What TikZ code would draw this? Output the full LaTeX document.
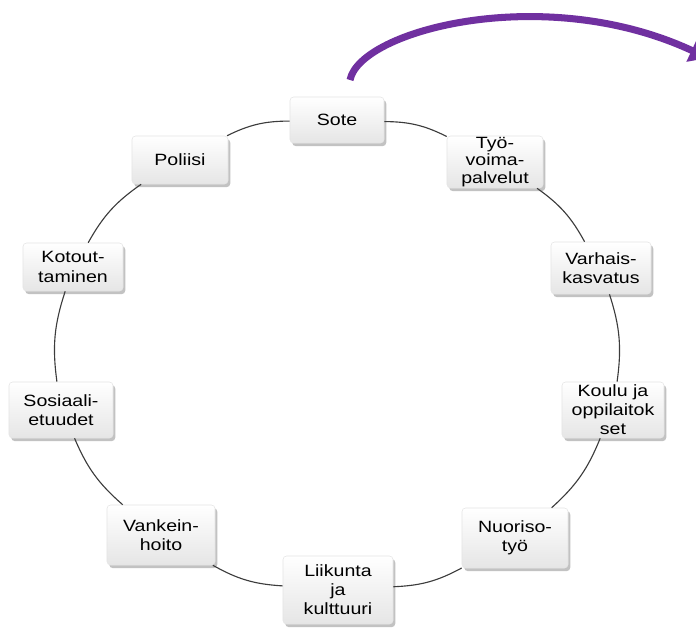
\documentclass[tikz,border=0pt]{standalone}
\usepackage{fontspec}
\newfontfamily\boxfont{Liberation Sans}[FakeStretch=1.2]
\usetikzlibrary{shadows,arrows.meta}

\definecolor{ringpurple}{RGB}{112,48,160}
\definecolor{ringline}{RGB}{60,60,60}

\tikzset{
  box/.style={rectangle, rounded corners=2.5pt, draw=gray!20, top color=white, bottom color=gray!20,
    drop shadow={shadow xshift=1.6pt, shadow yshift=-2.2pt, fill=gray!80, opacity=0.6},
    align=center, inner sep=1pt, minimum width=2.4cm, minimum height=1.2cm,
    font=\boxfont\fontsize{11.6}{13.6}\selectfont},
  ring/.style={draw=ringline, line width=0.8pt}
}

\begin{document}
\begin{tikzpicture}[x=0.025cm, y=-0.025cm]
  \useasboundingbox (0,0) rectangle (696,630);
  \draw [ringpurple, line width=5pt, -{Triangle[length=0.45cm, width=0.6cm]}] (350,80) .. controls (360,30) and (545,-18) .. (708,58);
  \node (sote) [box, minimum width=2.35cm, minimum height=1.15cm] at (337,120) {Sote};
  \node (tyovoima) [box, minimum height=1.3cm, font=\boxfont\fontsize{11.6}{12.2}\selectfont] at (495,162) {Työ-\\voima-\\palvelut};
  \node (varhais) [box, minimum width=2.5cm, minimum height=1.3cm] at (601,268) {Varhais-\\kasvatus};
  \node (koulu) [box, minimum width=2.55cm, minimum height=1.4cm] at (613,410) {Koulu ja\\oppilaitok\\set};
  \node (nuoriso) [box, minimum width=2.65cm, minimum height=1.5cm] at (515,538) {Nuoriso-\\työ};
  \node (liikunta) [box, minimum width=2.75cm, minimum height=1.7cm] at (338,590) {Liikunta\\ja\\kulttuuri};
  \node (vankein) [box, minimum width=2.7cm, minimum height=1.5cm] at (161,535) {Vankein-\\hoito};
  \node (sosiaali) [box, minimum width=2.6cm, minimum height=1.4cm] at (61,410) {Sosiaali-\\etuudet};
  \node (kotout) [box, minimum width=2.5cm] at (73,267) {Kotout-\\taminen};
  \node (poliisi) [box] at (180,160) {Poliisi};
  \foreach \a/\b in {sote/tyovoima, tyovoima/varhais, varhais/koulu, koulu/nuoriso, nuoriso/liikunta,
    liikunta/vankein, vankein/sosiaali, sosiaali/kotout, kotout/poliisi, poliisi/sote}
    \draw [ring] (\a) to [bend left=13] (\b);
\end{tikzpicture}
\end{document}
